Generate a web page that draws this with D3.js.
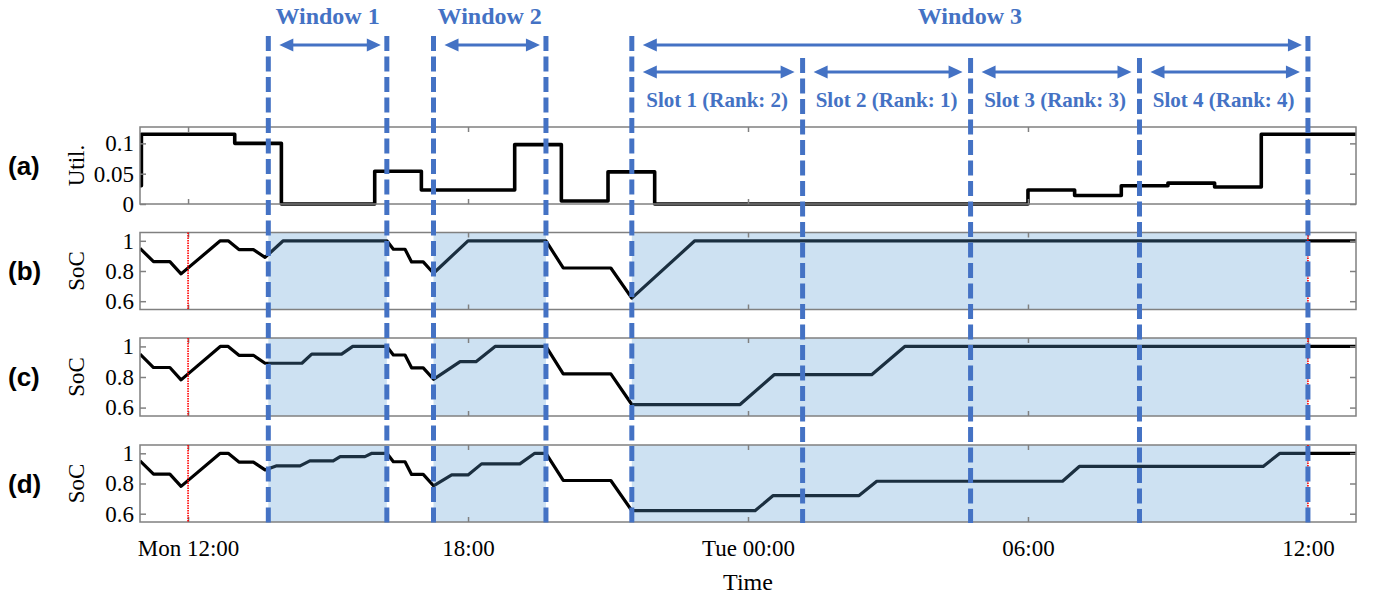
<!DOCTYPE html>
<html>
<head>
<meta charset="utf-8">
<script src="https://cdn.jsdelivr.net/npm/d3@7"></script>
<style>
  body { margin: 0; background: #fff; }
  svg { display: block; }
</style>
</head>
<body>
<svg id="chart" width="1374" height="601"></svg>
<script>
// ---- Data (time in hours since Monday 00:00) ----
const timeDomain = [10.97, 37.03];
const xTickHours = [12, 18, 24, 30, 36];
const xTickLabels = ["Mon 12:00", "18:00", "Tue 00:00", "06:00", "12:00"];

const utilTicks = [0, 0.05, 0.1];
const utilTickLabels = ["0", "0.05", "0.1"];
const socTicks = [0.6, 0.8, 1];
const socTickLabels = ["0.6", "0.8", "1"];

// Utilisation, step values (value holds from each time until the next)
const utilTime  = [10.97, 11, 13, 14, 16, 17, 19, 20, 21, 22, 30, 31, 32, 33, 34, 35, 37.03];
const utilValue = [0.03, 0.115, 0.1, 0, 0.054, 0.023, 0.098, 0.005, 0.053, 0, 0.023, 0.014, 0.03, 0.0345, 0.028, 0.115, 0.115];

// State of charge, scenario (b)
const socBTime  = [10.97, 11.26, 11.61, 11.85, 12.69, 12.86, 13.09, 13.40, 13.65, 14.04, 16.26, 16.40, 16.65, 16.79, 17.04, 17.26, 18.0, 19.67, 20.04, 21.06, 21.51, 22.86, 37.03];
const socBValue = [0.95, 0.862, 0.862, 0.781, 1.0, 1.0, 0.942, 0.942, 0.89, 1.0, 1.0, 0.944, 0.944, 0.86, 0.86, 0.785, 1.0, 1.0, 0.82, 0.82, 0.62, 1.0, 1.0];

// State of charge, scenario (c)
const socCTime  = [10.97, 11.26, 11.61, 11.85, 12.69, 12.86, 13.09, 13.40, 13.65, 14.44, 14.65, 15.29, 15.53, 16.26, 16.40, 16.65, 16.79, 17.04, 17.26, 17.83, 18.17, 18.58, 19.67, 20.04, 21.06, 21.51, 23.83, 24.56, 26.65, 27.36, 37.03];
const socCValue = [0.95, 0.862, 0.862, 0.781, 1.0, 1.0, 0.942, 0.942, 0.89, 0.89, 0.95, 0.95, 1.0, 1.0, 0.944, 0.944, 0.86, 0.86, 0.785, 0.9, 0.9, 1.0, 1.0, 0.82, 0.82, 0.62, 0.62, 0.815, 0.815, 1.0, 1.0];

// State of charge, scenario (d)
const socDTime  = [10.97, 11.26, 11.61, 11.85, 12.69, 12.86, 13.09, 13.40, 13.65, 13.9, 14.4, 14.61, 15.11, 15.26, 15.79, 15.94, 16.26, 16.40, 16.65, 16.79, 17.04, 17.26, 17.65, 18.0, 18.29, 19.11, 19.43, 19.67, 20.04, 21.06, 21.51, 24.15, 24.54, 26.38, 26.76, 30.74, 31.1, 35.04, 35.4, 37.03];
const socDValue = [0.95, 0.862, 0.862, 0.781, 1.0, 1.0, 0.942, 0.942, 0.89, 0.917, 0.917, 0.95, 0.95, 0.978, 0.978, 1.0, 1.0, 0.944, 0.944, 0.86, 0.86, 0.785, 0.857, 0.857, 0.93, 0.93, 1.0, 1.0, 0.82, 0.82, 0.62, 0.62, 0.72, 0.72, 0.815, 0.815, 0.913, 0.913, 1.0, 1.0];

// Charging windows and the slots of window 3
const windowLabels = ["Window 1", "Window 2", "Window 3"];
const windowStart = [13.72, 17.26, 21.51];
const windowEnd   = [16.26, 19.67, 36.0];
const slotBounds  = [21.51, 25.17, 28.77, 32.39, 36.0];
const slotLabels  = ["Slot 1 (Rank: 2)", "Slot 2 (Rank: 1)", "Slot 3 (Rank: 3)", "Slot 4 (Rank: 4)"];
const markerHours = [12, 36];

// ---- Styling ----
const SERIF = "'Liberation Serif', 'Times New Roman', serif";
const SANS = "'Liberation Sans', Arial, sans-serif";
const BLUE = "#4472c4";
const FRAME = "#808080";

const svg = d3.select("#chart");
const x = d3.scaleLinear().domain(timeDomain).range([140, 1356]);

const panels = [
  { tag: "(a)", title: "Util.", top: 127, h: 77, domain: [0, 0.127], ticks: utilTicks, labels: utilTickLabels,
    series: d3.zip(utilTime, utilValue), step: true, shaded: false },
  { tag: "(b)", title: "SoC", top: 232.5, h: 77, domain: [0.545, 1.055], ticks: socTicks, labels: socTickLabels,
    series: d3.zip(socBTime, socBValue), step: false, shaded: true },
  { tag: "(c)", title: "SoC", top: 338, h: 78, domain: [0.545, 1.055], ticks: socTicks, labels: socTickLabels,
    series: d3.zip(socCTime, socCValue), step: false, shaded: true },
  { tag: "(d)", title: "SoC", top: 445, h: 77, domain: [0.545, 1.055], ticks: socTicks, labels: socTickLabels,
    series: d3.zip(socDTime, socDValue), step: false, shaded: true }
];

const defs = svg.append("defs");

panels.forEach((p, i) => {
  const bottom = p.top + p.h;
  const y = d3.scaleLinear().domain(p.domain).range([bottom, p.top]);
  const g = svg.append("g");

  defs.append("clipPath").attr("id", "clip" + i)
    .append("rect").attr("x", 140).attr("y", p.top - 2).attr("width", 1216).attr("height", p.h + 4);

  // data line
  const line = d3.line().x(d => x(d[0])).y(d => y(d[1]))
    .curve(p.step ? d3.curveStepAfter : d3.curveLinear);
  g.append("path")
    .attr("d", line(p.series))
    .attr("clip-path", `url(#clip${i})`)
    .attr("fill", "none")
    .attr("stroke", "#000")
    .attr("stroke-width", p.step ? 3.6 : 3.2)
    .attr("stroke-linejoin", "round");

  // charging-window shading, laid over the line
  if (p.shaded) {
    g.selectAll("rect.win").data(d3.range(windowStart.length)).join("rect")
      .attr("class", "win")
      .attr("x", k => x(windowStart[k]))
      .attr("y", p.top)
      .attr("width", k => x(windowEnd[k]) - x(windowStart[k]))
      .attr("height", p.h)
      .attr("fill", "#5b9bd5")
      .attr("fill-opacity", 0.3);
  }

  // frame
  g.append("rect")
    .attr("x", 140).attr("y", p.top).attr("width", 1216).attr("height", p.h)
    .attr("fill", "none").attr("stroke", FRAME).attr("stroke-width", 1.5);

  // axes with inward ticks
  const styleAxis = sel => {
    sel.select(".domain").remove();
    sel.selectAll(".tick line").attr("stroke", FRAME).attr("stroke-width", 1.5);
    sel.selectAll(".tick text").attr("font-family", SERIF).attr("font-size", 23).attr("fill", "#000");
  };
  g.append("g").attr("transform", `translate(140,0)`)
    .call(d3.axisLeft(y).tickValues(p.ticks).tickFormat((d, k) => p.labels[k]).tickSize(-6).tickPadding(6))
    .call(styleAxis);
  g.append("g").attr("transform", `translate(1356,0)`)
    .call(d3.axisRight(y).tickValues(p.ticks).tickFormat("").tickSize(-6))
    .call(styleAxis);
  g.append("g").attr("transform", `translate(0,${p.top})`)
    .call(d3.axisTop(x).tickValues(xTickHours).tickFormat("").tickSize(-5))
    .call(styleAxis);
  const bAxis = g.append("g").attr("transform", `translate(0,${bottom})`)
    .call(d3.axisBottom(x).tickValues(xTickHours)
      .tickFormat((d, k) => i === panels.length - 1 ? xTickLabels[k] : "").tickSize(-5))
    .call(styleAxis);
  bAxis.selectAll(".tick text").attr("y", 34).attr("dy", 0);

  // y-axis title
  g.append("text")
    .attr("transform", `translate(84,${p.top + p.h / 2}) rotate(-90)`)
    .attr("text-anchor", "middle")
    .attr("font-family", SERIF).attr("font-size", 23)
    .text(p.title);

  // panel tag
  g.append("text")
    .attr("x", 8).attr("y", p.top + p.h / 2)
    .attr("dominant-baseline", "central")
    .attr("font-family", SANS).attr("font-weight", "bold").attr("font-size", 26)
    .text(p.tag);

  // red dotted markers
  if (p.shaded) {
    g.selectAll("line.mark").data(markerHours).join("line")
      .attr("class", "mark")
      .attr("x1", d => x(d)).attr("x2", d => x(d))
      .attr("y1", p.top).attr("y2", bottom)
      .attr("stroke", "#ff0000").attr("stroke-width", 1.6)
      .attr("stroke-dasharray", "1.5,1");
  }
});

// x-axis title
svg.append("text")
  .attr("x", 748).attr("y", 590)
  .attr("text-anchor", "middle")
  .attr("font-family", SERIF).attr("font-size", 24)
  .text("Time");

// ---- Window / slot annotations ----
const ann = svg.append("g");
const boundaries = [];
windowStart.forEach((s, k) => { boundaries.push({ t: s, top: 36 }); boundaries.push({ t: windowEnd[k], top: 36 }); });
slotBounds.slice(1, -1).forEach(t => boundaries.push({ t, top: 58 }));

ann.selectAll("line.bound").data(boundaries).join("line")
  .attr("class", "bound")
  .attr("x1", d => x(d.t)).attr("x2", d => x(d.t))
  .attr("y1", d => d.top).attr("y2", 523)
  .attr("stroke", BLUE).attr("stroke-width", 5)
  .attr("stroke-dasharray", "15,5.5");

function arrow(x1, x2, yy) {
  const hl = 14, hw = 6.5;
  ann.append("line")
    .attr("x1", x1 + hl - 2).attr("x2", x2 - hl + 2).attr("y1", yy).attr("y2", yy)
    .attr("stroke", BLUE).attr("stroke-width", 3);
  ann.append("path")
    .attr("d", `M${x1},${yy}L${x1 + hl},${yy - hw}L${x1 + hl},${yy + hw}Z`)
    .attr("fill", BLUE);
  ann.append("path")
    .attr("d", `M${x2},${yy}L${x2 - hl},${yy - hw}L${x2 - hl},${yy + hw}Z`)
    .attr("fill", BLUE);
}

windowLabels.forEach((lab, k) => {
  const x1 = x(windowStart[k]), x2 = x(windowEnd[k]);
  ann.append("text")
    .attr("x", (x1 + x2) / 2).attr("y", 24)
    .attr("text-anchor", "middle")
    .attr("font-family", SERIF).attr("font-weight", "bold").attr("font-size", 24)
    .attr("fill", BLUE)
    .text(lab);
  arrow(x1 + 11, x2 - 6, 45);
});

slotLabels.forEach((lab, k) => {
  const x1 = x(slotBounds[k]), x2 = x(slotBounds[k + 1]);
  arrow(x1 + 11, x2 - 8, 72);
  ann.append("text")
    .attr("x", (x1 + x2) / 2).attr("y", 107)
    .attr("text-anchor", "middle")
    .attr("font-family", SERIF).attr("font-weight", "bold").attr("font-size", 21)
    .attr("fill", BLUE)
    .text(lab);
});
</script>
</body>
</html>
